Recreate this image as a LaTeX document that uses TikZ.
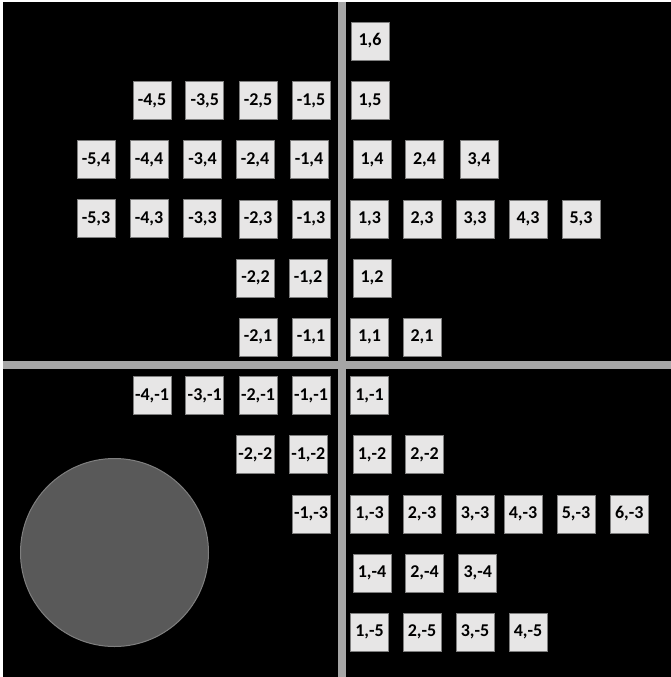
\documentclass[tikz,border=0pt]{standalone}
\usepackage{fontspec}
\setmainfont{Carlito}
\usepackage{xcolor}
\definecolor{cellBack}{HTML}{E7E6E6}
\definecolor{cellEdge}{HTML}{7F7F7F}
\definecolor{axisGray}{HTML}{A6A6A6}
\definecolor{discFill}{HTML}{595959}
\definecolor{discEdge}{HTML}{7F7F7F}
\tikzset{
    cell/.style={rectangle, draw=cellEdge, fill=cellBack, line width=0.8pt,
                 minimum size=38pt, inner sep=0pt,
                 font=\bfseries\fontsize{18}{18}\selectfont},
    axisline/.style={draw=axisGray, line width=8pt},
}

\begin{document}
\begin{tikzpicture}[x=1pt, y=-1pt]
    \useasboundingbox (0,0) rectangle (671,677);
    \fill[white] (0,0) rectangle (671,677);
    \fill[black] (3,2) rectangle (671,677);

    % axes
    \draw[axisline] (342,2) -- (342,677);
    \draw[axisline] (3,365) -- (671,365);

    % disc
    \draw[discEdge, fill=discFill, line width=1pt] (114.5,552.5) circle[radius=94];

    % row 6 and 5
    \node[cell] (p1p6) at (370,41) {1,6};
    \node[cell] (m4p5) at (152,100.5) {-4,5};
    \node[cell] (m3p5) at (204.7,100.5) {-3,5};
    \node[cell] (m2p5) at (258,100.5) {-2,5};
    \node[cell] (m1p5) at (311,100.5) {-1,5};
    \node[cell] (p1p5) at (370,100.5) {1,5};

    % row 4
    \node[cell] (m5p4) at (96,159.5) {-5,4};
    \node[cell] (m4p4) at (149,159.5) {-4,4};
    \node[cell] (m3p4) at (202.5,159.5) {-3,4};
    \node[cell] (m2p4) at (255,159.5) {-2,4};
    \node[cell] (m1p4) at (309,159.5) {-1,4};
    \node[cell] (p1p4) at (372,159.5) {1,4};
    \node[cell] (p2p4) at (424.5,159.5) {2,4};
    \node[cell] (p3p4) at (479,159.5) {3,4};

    % row 3
    \node[cell] (m5p3) at (96,218.5) {-5,3};
    \node[cell] (m4p3) at (149,218.5) {-4,3};
    \node[cell] (m3p3) at (202.5,218.5) {-3,3};
    \node[cell] (m2p3) at (258,219) {-2,3};
    \node[cell] (m1p3) at (311,219) {-1,3};
    \node[cell] (p1p3) at (369.5,219) {1,3};
    \node[cell] (p2p3) at (422,219) {2,3};
    \node[cell] (p3p3) at (475,219) {3,3};
    \node[cell] (p4p3) at (528,219) {4,3};
    \node[cell] (p5p3) at (581,219) {5,3};

    % row 2 and 1
    \node[cell] (m2p2) at (255.5,278) {-2,2};
    \node[cell] (m1p2) at (308,278) {-1,2};
    \node[cell] (p1p2) at (372,278) {1,2};
    \node[cell] (m2p1) at (258,337) {-2,1};
    \node[cell] (m1p1) at (311,337) {-1,1};
    \node[cell] (p1p1) at (369.5,337) {1,1};
    \node[cell] (p2p1) at (422,337) {2,1};

    % row -1 and -2
    \node[cell] (m4m1) at (152,395.5) {-4,-1};
    \node[cell] (m3m1) at (204.7,395.5) {-3,-1};
    \node[cell] (m2m1) at (258,395.5) {-2,-1};
    \node[cell] (m1m1) at (311,395.5) {-1,-1};
    \node[cell] (p1m1) at (369.5,395.5) {1,-1};
    \node[cell] (m2m2) at (255.3,454.7) {-2,-2};
    \node[cell] (m1m2) at (308.3,454.7) {-1,-2};
    \node[cell] (p1m2) at (372,454.7) {1,-2};
    \node[cell] (p2m2) at (424.5,454.7) {2,-2};

    % row -3
    \node[cell] (m1m3) at (311,514) {-1,-3};
    \node[cell] (p1m3) at (369.5,514) {1,-3};
    \node[cell] (p2m3) at (422,514) {2,-3};
    \node[cell] (p3m3) at (475,514) {3,-3};
    \node[cell] (p4m3) at (523,514) {4,-3};
    \node[cell] (p5m3) at (576,514) {5,-3};
    \node[cell] (p6m3) at (629.3,514) {6,-3};

    % row -4 and -5
    \node[cell] (p1m4) at (372,573) {1,-4};
    \node[cell] (p2m4) at (424.5,573) {2,-4};
    \node[cell] (p3m4) at (477.7,573) {3,-4};
    \node[cell] (p1m5) at (369.5,632) {1,-5};
    \node[cell] (p2m5) at (422,632) {2,-5};
    \node[cell] (p3m5) at (475,632) {3,-5};
    \node[cell] (p4m5) at (528,632) {4,-5};
\end{tikzpicture}
\end{document}
